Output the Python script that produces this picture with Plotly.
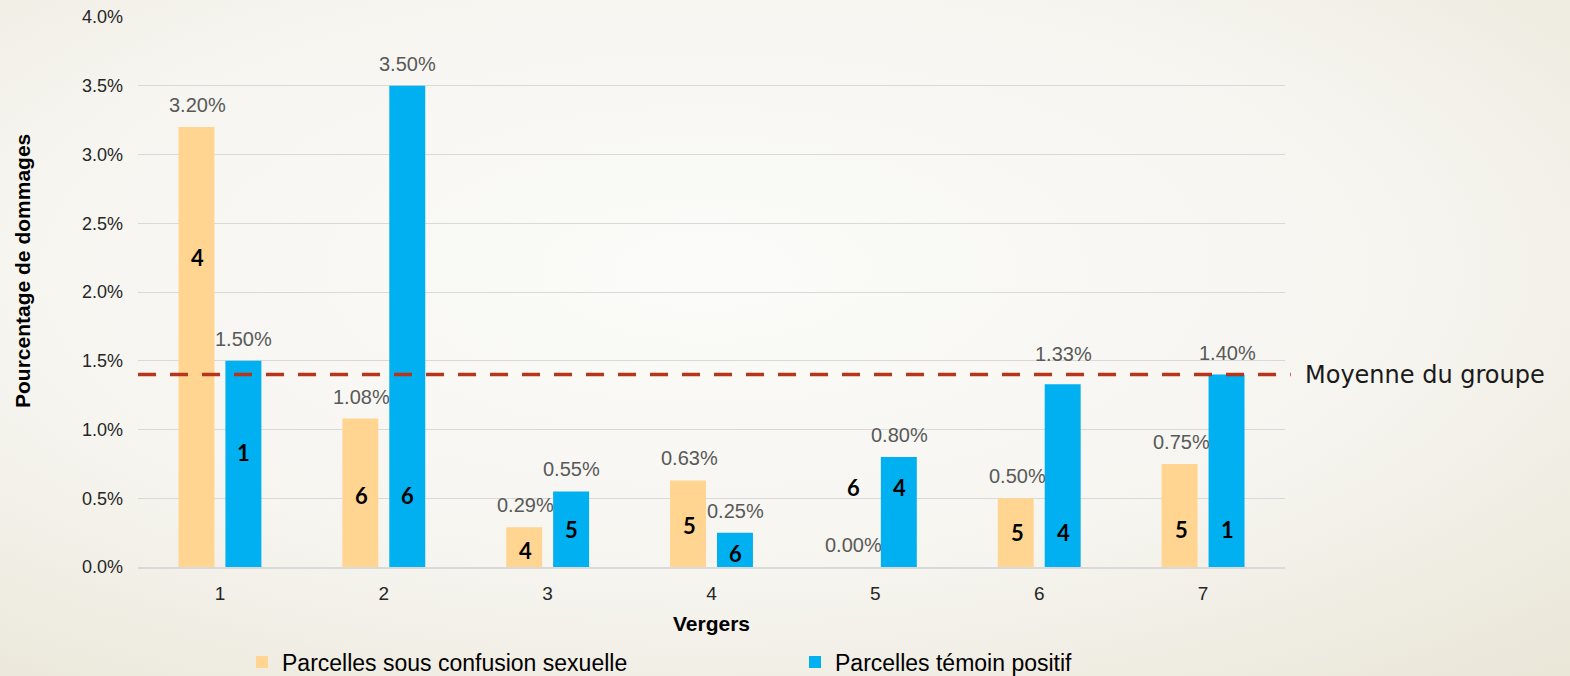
import base64
import plotly.graph_objects as go

vergers = ["1", "2", "3", "4", "5", "6", "7"]
confusion = [0.0320, 0.0108, 0.0029, 0.0063, 0.0000, 0.0050, 0.0075]
temoin = [0.0150, 0.0350, 0.0055, 0.0025, 0.0080, 0.0133, 0.0140]
rang_confusion = ["4", "6", "4", "5", "6", "5", "5"]
rang_temoin = ["1", "6", "5", "6", "4", "4", "1"]
# vertical placement (in data units) of the rank numbers
rang_conf_y = [0.0225, 0.0052, 0.0012, 0.0030, 0.0058, 0.0025, 0.0027]
rang_tem_y = [0.0083, 0.0052, 0.0027, 0.0010, 0.0058, 0.0025, 0.0027]
moyenne = 0.0140

ORANGE = "#FFD591"
BLUE = "#00B0F0"

svg = """<svg xmlns='http://www.w3.org/2000/svg' width='1570' height='676'>
<defs><radialGradient id='g' cx='0.45' cy='0.4' r='0.8'>
<stop offset='0' stop-color='#FBFBF9'/><stop offset='0.55' stop-color='#F6F5F0'/>
<stop offset='1' stop-color='#EAE6D8'/></radialGradient></defs>
<rect width='1570' height='676' fill='url(#g)'/></svg>"""
bg = "data:image/svg+xml;base64," + base64.b64encode(svg.encode()).decode()

PW, PH, L, T = 1147, 550, 138, 17

fig = go.Figure()
fig.add_trace(go.Bar(
    x=vergers, y=confusion, name="Parcelles sous confusion sexuelle",
    marker=dict(color=ORANGE, line=dict(width=0)), legend="legend",
))
fig.add_trace(go.Bar(
    x=vergers, y=temoin, name="Parcelles témoin positif",
    marker=dict(color=BLUE, line=dict(width=0)), legend="legend2",
))

annotations = []
for i, v in enumerate(vergers):
    for val, dx in ((confusion[i], -22), (temoin[i], 24)):
        # the 1.33% label sits a little higher in the original, clear of the dashed line
        extra = 8 if abs(val - 0.0133) < 1e-9 else 0
        annotations.append(dict(x=i, y=val, xref="x", yref="y", text=f"{val*100:.2f}%",
                                showarrow=False, xshift=dx, yanchor="bottom", yshift=9 + extra,
                                font=dict(family="Liberation Sans, Arial", size=20, color="#595959")))
    annotations.append(dict(x=i, y=rang_conf_y[i], xref="x", yref="y", text=f"<b>{rang_confusion[i]}</b>",
                            showarrow=False, xshift=-22,
                            font=dict(family="Lato, Liberation Sans", size=22, color="#000000")))
    annotations.append(dict(x=i, y=rang_tem_y[i], xref="x", yref="y", text=f"<b>{rang_temoin[i]}</b>",
                            showarrow=False, xshift=24,
                            font=dict(family="Lato, Liberation Sans", size=22, color="#000000")))
annotations.append(dict(x=1.016, y=moyenne, xref="paper", yref="y", text="Moyenne du groupe",
                        showarrow=False, xanchor="left", yanchor="middle",
                        font=dict(family="DejaVu Sans", size=24, color="#1a1a1a")))
annotations.append(dict(x=(22 - L) / PW, y=(T + PH - 271) / PH, xref="paper", yref="paper",
                        text="<b>Pourcentage de dommages</b>", textangle=-90, showarrow=False,
                        xanchor="center", yanchor="middle",
                        font=dict(family="Liberation Sans, Arial", size=21, color="#000000")))

fig.update_layout(
    width=1570, height=676,
    margin=dict(l=L, r=1570 - L - PW, t=T, b=676 - T - PH, autoexpand=False),
    paper_bgcolor="#F7F6F1", plot_bgcolor="rgba(0,0,0,0)",
    images=[dict(source=bg, xref="paper", yref="paper", x=-L / PW, y=1 + T / PH,
                 sizex=1570 / PW, sizey=676 / PH, xanchor="left", yanchor="top",
                 sizing="stretch", layer="below")],
    barmode="group", bargap=0.427, bargroupgap=0.234,
    font=dict(family="Liberation Sans, Arial", size=18, color="#262626"),
    xaxis=dict(
        type="category", showgrid=False, showline=True, linecolor="#D9D9D9", linewidth=2,
        ticks="", tickfont=dict(size=19, color="#262626"), ticklabelstandoff=8,
        title=dict(text="<b>Vergers</b>", font=dict(size=21, color="#000000"), standoff=14),
    ),
    yaxis=dict(
        range=[0, 0.04], dtick=0.005, tickformat=".1%", showgrid=True, gridcolor="#D9D9D9",
        gridwidth=1, zeroline=False, ticks="", tickfont=dict(size=18, color="#262626"),
        ticklabelstandoff=14,
    ),
    showlegend=True,
    legend=dict(x=(242 - L) / PW, xanchor="left", y=(T + PH - 662) / PH, yanchor="middle",
                orientation="h", bgcolor="rgba(0,0,0,0)", font=dict(size=23, color="#000000"),
                itemwidth=30),
    legend2=dict(x=(795 - L) / PW, xanchor="left", y=(T + PH - 662) / PH, yanchor="middle",
                 orientation="h", bgcolor="rgba(0,0,0,0)", font=dict(size=23, color="#000000"),
                 itemwidth=30),
    annotations=annotations,
    shapes=[dict(type="line", xref="paper", yref="y", x0=0, x1=1.005, y0=moyenne, y1=moyenne,
                 line=dict(color="#B7361B", width=3.5, dash="18px,14px"), layer="above")],
)

fig.write_html("out.html", config={"displayModeBar": False},
               post_script="document.body.style.margin='0';")
